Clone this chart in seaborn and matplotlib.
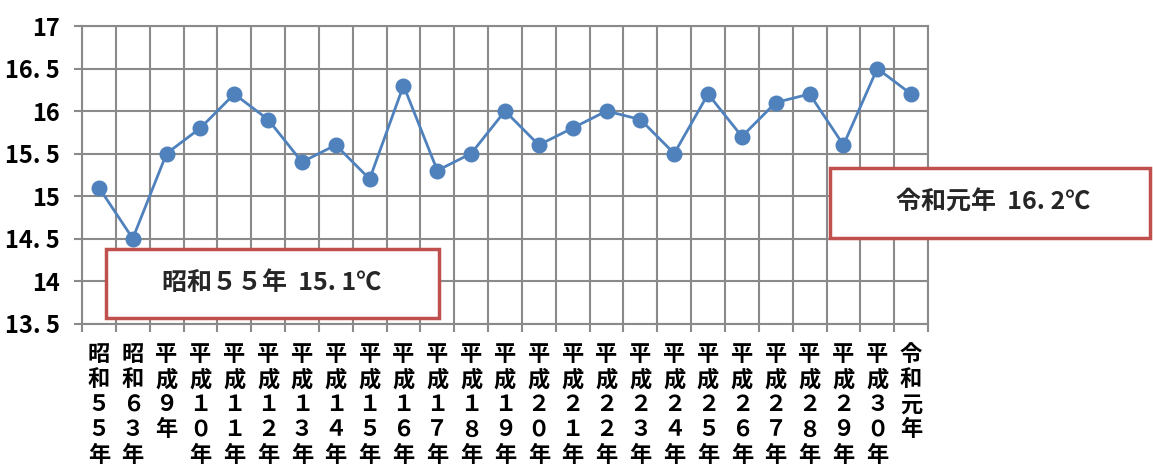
import matplotlib
matplotlib.use("Agg")
import matplotlib.pyplot as plt
from matplotlib.patches import Rectangle
from matplotlib.ticker import FixedLocator
import seaborn as sns
import pandas as pd

# Annual mean temperature by year
years = ["昭和５５年", "昭和６３年", "平成９年", "平成１０年", "平成１１年",
         "平成１２年", "平成１３年", "平成１４年", "平成１５年", "平成１６年",
         "平成１７年", "平成１８年", "平成１９年", "平成２０年", "平成２１年",
         "平成２２年", "平成２３年", "平成２４年", "平成２５年", "平成２６年",
         "平成２７年", "平成２８年", "平成２９年", "平成３０年", "令和元年"]
temps = [15.1, 14.5, 15.5, 15.8, 16.2, 15.9, 15.4, 15.6, 15.2, 16.3,
         15.3, 15.5, 16.0, 15.6, 15.8, 16.0, 15.9, 15.5, 16.2, 15.7,
         16.1, 16.2, 15.6, 16.5, 16.2]
y_ticks = [13.5, 14, 14.5, 15, 15.5, 16, 16.5, 17]
y_tick_labels = ["13. 5", "14", "14. 5", "15", "15. 5", "16", "16. 5", "17"]
callouts = ["昭和５５年  15. 1℃", "令和元年  16. 2℃"]

sns.set_theme(style="white")
plt.rcParams["font.family"] = ["Noto Sans CJK JP", "DejaVu Sans"]

LINE_BLUE = "#4F81BD"
GRID_GREY = "#8A8A8A"
BOX_RED = "#C0504D"

df = pd.DataFrame({"year": years, "temp": temps})

fig = plt.figure(figsize=(11.53, 4.73), dpi=100)
ax = fig.add_axes([0.0711, 0.316, 0.7338, 0.629])

sns.pointplot(data=df, x="year", y="temp", order=years, color=LINE_BLUE,
              markers="o", markersize=10, linewidth=2, errorbar=None, ax=ax)

n = len(years)
ax.set_xlim(-0.5, n - 0.5)
ax.set_ylim(13.5, 17)

# vertical grid at category boundaries, horizontal grid at value ticks
ax.xaxis.set_minor_locator(FixedLocator([i - 0.5 for i in range(n + 1)]))
ax.set_yticks(y_ticks)
ax.set_yticklabels(y_tick_labels, fontsize=17, fontweight="bold")
ax.set_xticks(range(n))
ax.set_xticklabels(["\n".join(y) for y in years], fontsize=16,
                   fontweight="bold", linespacing=1.12, va="top")
ax.grid(False)
ax.grid(True, axis="x", which="minor", color=GRID_GREY, linewidth=1.5)
ax.grid(True, axis="y", which="major", color=GRID_GREY, linewidth=1.5)
ax.set_axisbelow(True)

ax.tick_params(axis="x", which="major", length=0, pad=14, colors="black")
ax.tick_params(axis="x", which="minor", bottom=True, length=6, width=1.5,
               color=GRID_GREY, direction="out")
ax.tick_params(axis="y", which="major", left=True, length=6, width=1.5,
               direction="out", pad=10, colors="black")
ax.tick_params(axis="y", which="major", color=GRID_GREY)

for side in ["left", "right", "top", "bottom"]:
    ax.spines[side].set_visible(True)
    ax.spines[side].set_color(GRID_GREY)
    ax.spines[side].set_linewidth(1.5)
ax.set_xlabel("")
ax.set_ylabel("")

# callout boxes
boxes = [(0.0919, 0.3277, 0.2888, 0.1459), (0.7199, 0.4968, 0.2775, 0.148)]
for (x0, y0, w, h), label in zip(boxes, callouts):
    fig.patches.append(Rectangle((x0, y0), w, h, transform=fig.transFigure,
                                 facecolor="white", edgecolor=BOX_RED,
                                 linewidth=2.5, zorder=5))
for (x0, y0, w, h), label, cx in zip(boxes, callouts, [272 / 1153, 993 / 1153]):
    fig.text(cx, y0 + h / 2, label, ha="center", va="center", fontsize=18,
             fontweight="bold", zorder=6)

fig.savefig("out.png", dpi=100)
